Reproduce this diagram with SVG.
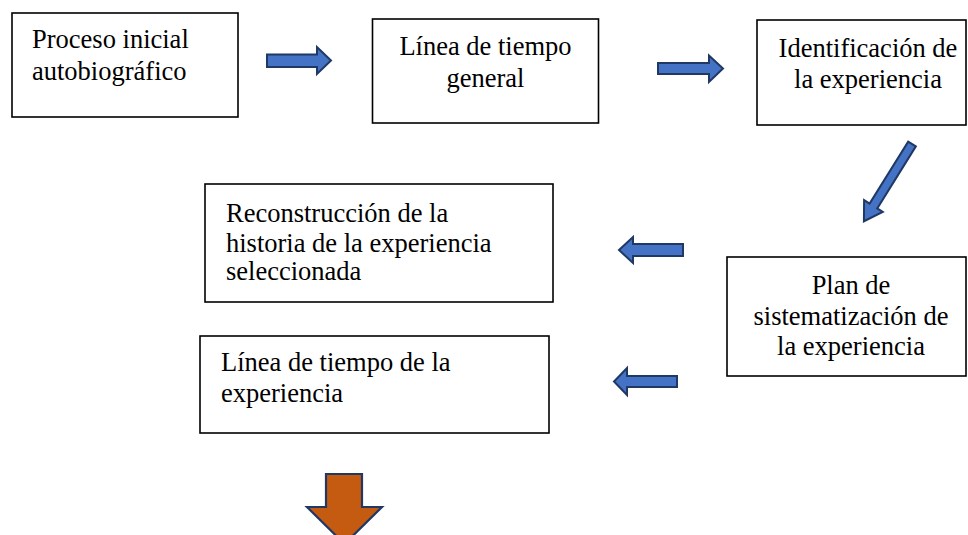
<svg xmlns="http://www.w3.org/2000/svg" width="968" height="535" viewBox="0 0 968 535">
<style>
.box{fill:#fff;stroke:#000;stroke-width:1.6}
.t{font-family:"Liberation Serif","Times New Roman",serif;font-size:26.5px;fill:#000}
.c{text-anchor:middle}
.ba{fill:#4472C4;stroke:#1F3864;stroke-width:2;stroke-linejoin:miter}
.oa{fill:#C55A11;stroke:#1F3864;stroke-width:2.2}
</style>
<rect width="968" height="535" fill="#fff"/>
<g id="n1"><rect class="box" x="12" y="13" width="226" height="104"/>
<text class="t" x="32" y="48">Proceso inicial</text>
<text class="t" x="32" y="80">autobiográfico</text></g>
<g id="n2"><rect class="box" x="372.5" y="19" width="226" height="104"/>
<text class="t c" x="485.5" y="55">Línea de tiempo</text>
<text class="t c" x="485.5" y="87">general</text></g>
<g id="n3"><rect class="box" x="757" y="20" width="209" height="105"/>
<text class="t c" x="868" y="57">Identificación de</text>
<text class="t c" x="868" y="88">la experiencia</text></g>
<g id="n4"><rect class="box" x="727" y="257" width="239" height="119"/>
<text class="t c" x="851" y="294">Plan de</text>
<text class="t c" x="851" y="325">sistematización de</text>
<text class="t c" x="851" y="355">la experiencia</text></g>
<g id="n5"><rect class="box" x="205" y="184" width="348" height="118"/>
<text class="t" x="226" y="222">Reconstrucción de la</text>
<text class="t" x="226" y="252">historia de la experiencia</text>
<text class="t" x="226" y="280">seleccionada</text></g>
<g id="n6"><rect class="box" x="200" y="336" width="349" height="97"/>
<text class="t" x="221" y="371">Línea de tiempo de la</text>
<text class="t" x="221" y="402">experiencia</text></g>
<g id="connectors">
<polygon class="ba" points="267,54.5 317,54.5 317,47 331,60.5 317,74 317,67 267,67"/>
<polygon class="ba" points="658,63 709,63 709,55.5 723,68.5 709,82 709,74 658,74"/>
<polygon class="ba" transform="translate(912,144) rotate(121.9)" points="0,-4.5 73,-4.5 73,-11 91,0 73,11 73,4.5 0,4.5"/>
<polygon class="ba" points="683,244 633,244 633,237 619,250 633,263 633,256 683,256"/>
<polygon class="ba" points="677,376 627,376 627,368 614,381.5 627,395 627,387 677,387"/>
<polygon class="oa" points="326,474 362,474 362,507 382,507 344.5,544 307,507 326,507"/>
</g>
</svg>
